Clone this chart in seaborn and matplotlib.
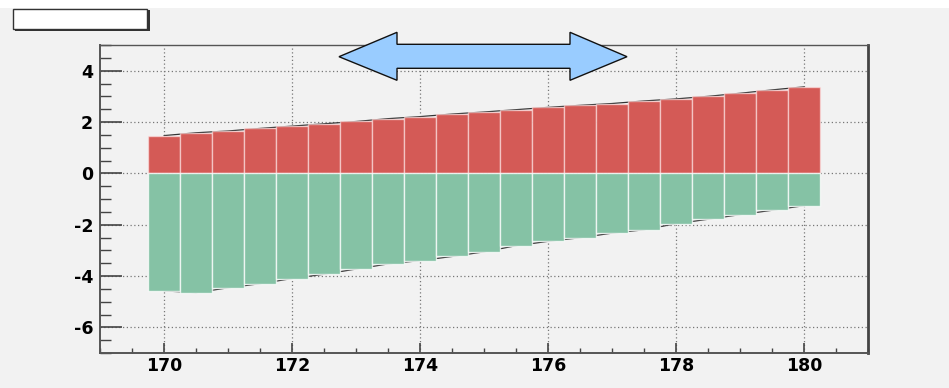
import numpy as np
import pandas as pd
import matplotlib
matplotlib.use("Agg")
import matplotlib.pyplot as plt
import seaborn as sns
from matplotlib.patches import Polygon, Rectangle
from matplotlib.ticker import MultipleLocator

# bin centres and the two stacked series
centers = [170.0, 170.5, 171.0, 171.5, 172.0, 172.5, 173.0, 173.5, 174.0, 174.5, 175.0,
           175.5, 176.0, 176.5, 177.0, 177.5, 178.0, 178.5, 179.0, 179.5, 180.0]
upper = [1.47, 1.58, 1.65, 1.75, 1.84, 1.93, 2.02, 2.13, 2.21, 2.31, 2.39,
         2.48, 2.57, 2.65, 2.72, 2.82, 2.90, 3.00, 3.12, 3.25, 3.37]
lower = [-4.58, -4.65, -4.46, -4.30, -4.10, -3.93, -3.73, -3.53, -3.40, -3.24, -3.06,
         -2.82, -2.65, -2.51, -2.33, -2.20, -1.96, -1.79, -1.61, -1.44, -1.26]
x_ticks = [170, 172, 174, 176, 178, 180]
y_ticks = [-6, -4, -2, 0, 2, 4]

df = pd.DataFrame({"x": centers, "up": upper, "low": lower})

sns.set_style("ticks")
plt.rcParams["font.family"] = ["DejaVu Sans"]

BG = "#f2f2f2"
fig = plt.figure(figsize=(9.49, 3.88), dpi=100, facecolor=BG)
W, H = 949, 388
ax = fig.add_axes([100 / W, 1 - 353 / H, 768 / W, 308 / H])
ax.set_facecolor(BG)
ax.set_axisbelow(True)

# outline lines sit underneath the bars
ax.plot(df["x"], df["up"], color="#333333", lw=0.9, zorder=0.8)
ax.plot(df["x"], df["low"], color="#333333", lw=0.9, zorder=0.8)

sns.barplot(data=df, x="x", y="up", native_scale=True, width=1.0, color="#d45a56",
            saturation=1, edgecolor=(1, 0.9, 0.9, 0.6), linewidth=1.0, ax=ax, zorder=1)
sns.barplot(data=df, x="x", y="low", native_scale=True, width=1.0, color="#85c2a5",
            saturation=1, edgecolor=(1, 1, 1, 0.75), linewidth=1.0, ax=ax, zorder=1)

ax.set_xlim(169, 181)
ax.set_ylim(-7, 5)
ax.set_xticks(x_ticks)
ax.set_yticks(y_ticks)
ax.set_xticklabels([str(t) for t in x_ticks])
ax.set_yticklabels([str(t) for t in y_ticks])
ax.xaxis.set_minor_locator(MultipleLocator(0.5))
ax.yaxis.set_minor_locator(MultipleLocator(0.5))
ax.set_xlabel("")
ax.set_ylabel("")

ax.grid(True, which="major", linestyle=(0, (1, 2)), color="#777777", lw=0.9)

ax.tick_params(axis="x", which="major", direction="in", length=7, width=1.2,
               color="#444444", pad=3, labelsize=12.5, labelcolor="black")
ax.tick_params(axis="x", which="minor", direction="in", length=3.5, width=1.0, color="#444444")
ax.tick_params(axis="y", which="major", direction="in", length=16, width=1.2,
               color="#444444", pad=5, labelsize=12.5, labelcolor="black")
ax.tick_params(axis="y", which="minor", direction="in", length=8, width=1.0, color="#444444")
for lab in ax.get_xticklabels() + ax.get_yticklabels():
    lab.set_fontweight("heavy")

for side in ["left", "bottom"]:
    ax.spines[side].set_color("#555555")
    ax.spines[side].set_linewidth(1.4)
ax.spines["top"].set_color("#555555")
ax.spines["top"].set_linewidth(1.0)
ax.spines["right"].set_color("#444444")
ax.spines["right"].set_linewidth(2.0)

# white strip at the very top of the canvas
fig.patches.append(Rectangle((0, 1 - 8 / H), 1, 8 / H, transform=fig.transFigure,
                             facecolor="white", edgecolor="none", zorder=0))

# empty title box with shadow
fig.patches.append(Rectangle((15 / W, 1 - 31 / H), 135 / W, 21 / H, transform=fig.transFigure,
                             facecolor="#333333", edgecolor="none", zorder=3))
fig.patches.append(Rectangle((13 / W, 1 - 29 / H), 134 / W, 20 / H, transform=fig.transFigure,
                             facecolor="white", edgecolor="#333333", lw=1.0, zorder=4))

# double-headed blue arrow
pts = [(339, 56.7), (397, 32.3), (397, 44.3), (570, 44.3), (570, 32.3), (627, 56.7),
       (570, 80.3), (570, 68.3), (397, 68.3), (397, 80.3)]
arrow = Polygon([(px / W, 1 - py / H) for px, py in pts], closed=True,
                transform=fig.transFigure, facecolor="#99ccff", edgecolor="#111111",
                lw=1.0, zorder=5)
fig.patches.append(arrow)

fig.savefig("out.png", dpi=100, facecolor=BG)
